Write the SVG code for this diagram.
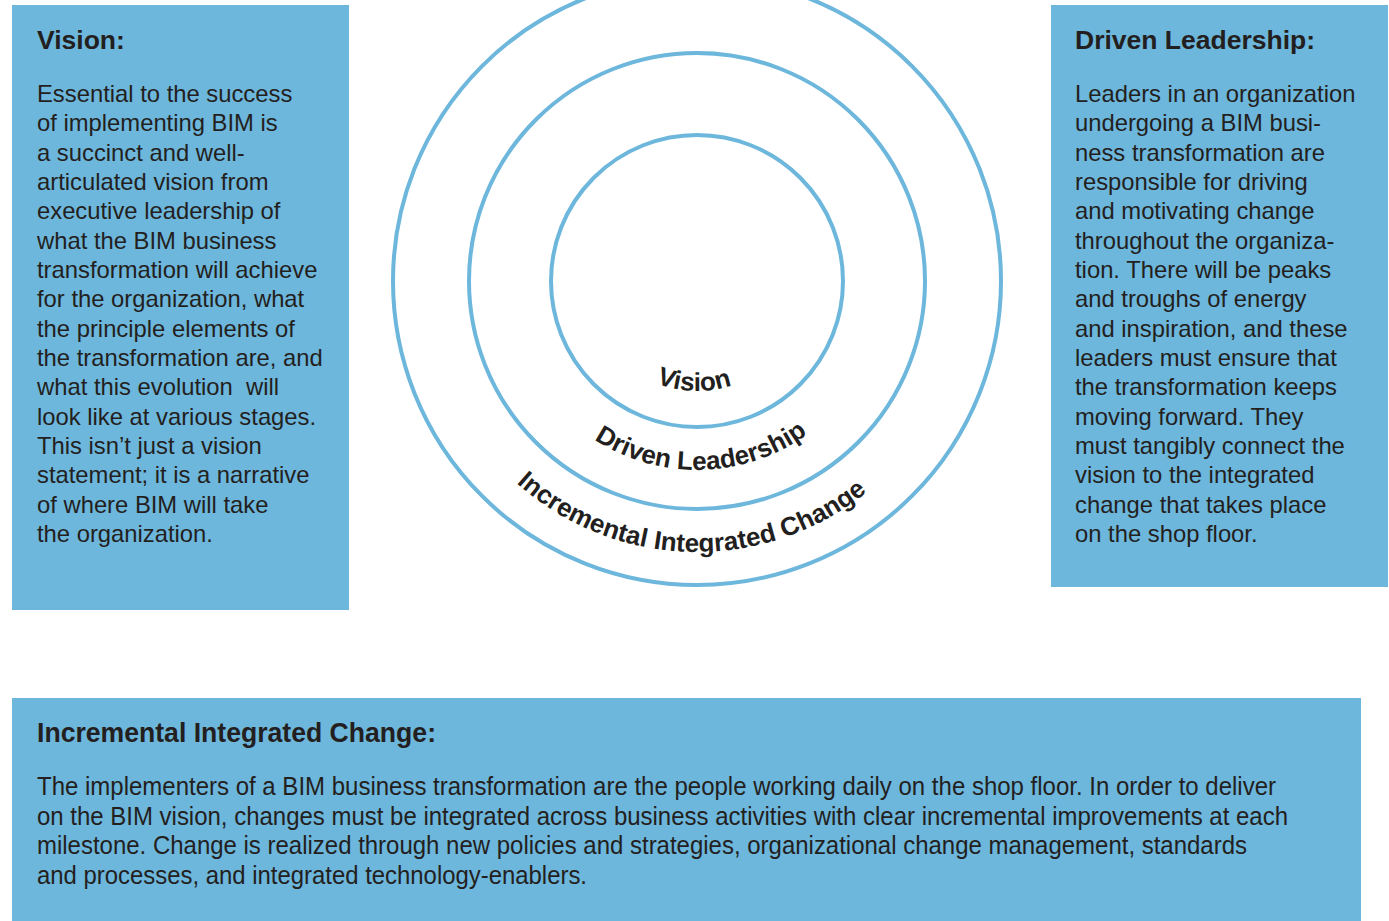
<svg xmlns="http://www.w3.org/2000/svg" width="1389" height="921" viewBox="0 0 1389 921">
<style>
.box{fill:#6db6dc}
.ring{fill:none;stroke:#6db6dc;stroke-width:4}
.h{font-family:"Liberation Sans",Arial,sans-serif;font-weight:bold;font-size:26.5px;fill:#231f20}
.b{font-family:"Liberation Sans",Arial,sans-serif;font-size:23.8px;fill:#231f20;white-space:pre}
.n{font-family:"Liberation Sans",Arial,sans-serif;font-size:25px;fill:#231f20}
.nh{font-family:"Liberation Sans",Arial,sans-serif;font-weight:bold;font-size:27px;fill:#231f20}
.arc{font-family:"Liberation Sans",Arial,sans-serif;font-weight:bold;font-size:26px;fill:#231f20}
</style>
<defs>
<path id="pV" d="M587,281 A110,110 0 0 0 807,281"/>
<path id="pD" d="M508,281 A189,189 0 0 0 886,281"/>
<path id="pI" d="M426,281 A271,271 0 0 0 968,281"/>
</defs>
<g id="vision-box">
<rect class="box" x="12" y="5" width="337" height="605"/>
<text class="h" x="37" y="49">Vision:</text>
<text class="b" x="37" y="102">Essential to the success</text>
<text class="b" x="37" y="131.3">of implementing BIM is</text>
<text class="b" x="37" y="160.7">a succinct and well-</text>
<text class="b" x="37" y="190">articulated vision from</text>
<text class="b" x="37" y="219.3">executive leadership of</text>
<text class="b" x="37" y="248.7">what the BIM business</text>
<text class="b" x="37" y="278">transformation will achieve</text>
<text class="b" x="37" y="307.3">for the organization, what</text>
<text class="b" x="37" y="336.7">the principle elements of</text>
<text class="b" x="37" y="366">the transformation are, and</text>
<text class="b" x="37" y="395.3">what this evolution  will</text>
<text class="b" x="37" y="424.7">look like at various stages.</text>
<text class="b" x="37" y="454">This isn’t just a vision</text>
<text class="b" x="37" y="483.3">statement; it is a narrative</text>
<text class="b" x="37" y="512.7">of where BIM will take</text>
<text class="b" x="37" y="542">the organization.</text>
</g>
<g id="leadership-box">
<rect class="box" x="1051" y="5" width="337" height="582"/>
<text class="h" x="1075" y="49">Driven Leadership:</text>
<text class="b" x="1075" y="102">Leaders in an organization</text>
<text class="b" x="1075" y="131.3">undergoing a BIM busi-</text>
<text class="b" x="1075" y="160.7">ness transformation are</text>
<text class="b" x="1075" y="190">responsible for driving</text>
<text class="b" x="1075" y="219.3">and motivating change</text>
<text class="b" x="1075" y="248.7">throughout the organiza-</text>
<text class="b" x="1075" y="278">tion. There will be peaks</text>
<text class="b" x="1075" y="307.3">and troughs of energy</text>
<text class="b" x="1075" y="336.7">and inspiration, and these</text>
<text class="b" x="1075" y="366">leaders must ensure that</text>
<text class="b" x="1075" y="395.3">the transformation keeps</text>
<text class="b" x="1075" y="424.7">moving forward. They</text>
<text class="b" x="1075" y="454">must tangibly connect the</text>
<text class="b" x="1075" y="483.3">vision to the integrated</text>
<text class="b" x="1075" y="512.7">change that takes place</text>
<text class="b" x="1075" y="542">on the shop floor.</text>
</g>
<g id="change-box">
<rect class="box" x="12" y="698" width="1349" height="223"/>
<text class="nh" x="37" y="742" textLength="399" lengthAdjust="spacingAndGlyphs">Incremental Integrated Change:</text>
<text class="n" x="37" y="795" textLength="1239" lengthAdjust="spacingAndGlyphs">The implementers of a BIM business transformation are the people working daily on the shop floor. In order to deliver</text>
<text class="n" x="37" y="824.5" textLength="1251" lengthAdjust="spacingAndGlyphs">on the BIM vision, changes must be integrated across business activities with clear incremental improvements at each</text>
<text class="n" x="37" y="854" textLength="1210" lengthAdjust="spacingAndGlyphs">milestone. Change is realized through new policies and strategies, organizational change management, standards</text>
<text class="n" x="37" y="883.5" textLength="550" lengthAdjust="spacingAndGlyphs">and processes, and integrated technology-enablers.</text>
</g>
<g id="rings">
<circle class="ring" cx="697" cy="281" r="304"/>
<circle class="ring" cx="697" cy="281" r="228"/>
<circle class="ring" cx="697" cy="281" r="146"/>
<text class="arc" text-anchor="middle"><textPath href="#pV" startOffset="49.1%">Vision</textPath></text>
<text class="arc" text-anchor="middle"><textPath href="#pD" startOffset="50.8%">Driven Leadership</textPath></text>
<text class="arc" text-anchor="middle"><textPath href="#pI" startOffset="49.2%">Incremental Integrated Change</textPath></text>
</g>
</svg>
